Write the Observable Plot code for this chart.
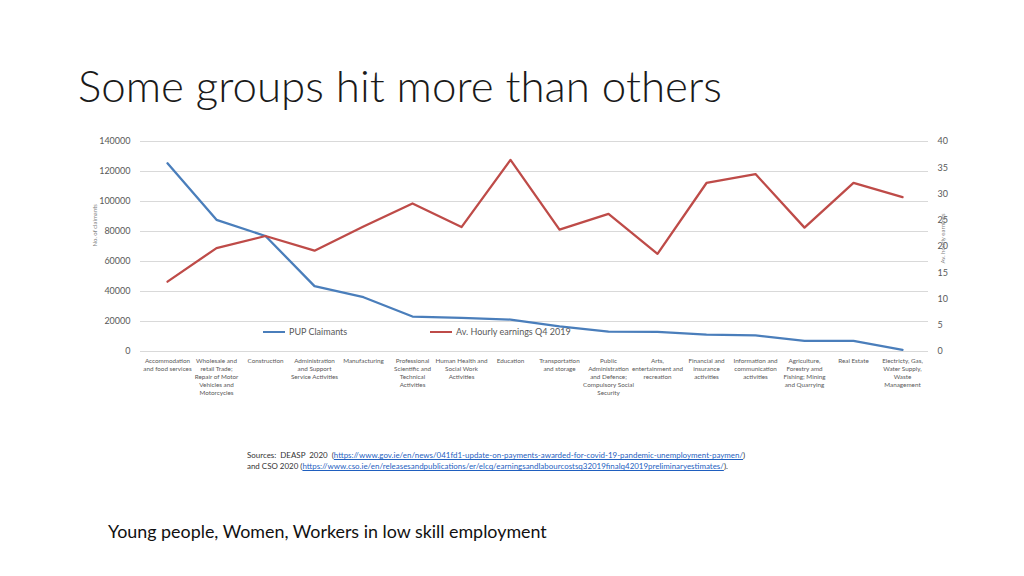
<!DOCTYPE html>
<html><head><meta charset="utf-8">
<script src="https://cdn.jsdelivr.net/npm/d3@7"></script>
<script src="https://cdn.jsdelivr.net/npm/@observablehq/plot@0.6"></script>
<style>
body{margin:0;background:#fff;font-family:Lato,"Open Sans",sans-serif;}
#page{position:relative;width:1024px;height:576px;overflow:hidden;background:#fff;}
#chart{position:absolute;left:0;top:0;}
.title{position:absolute;left:78px;top:61px;font-size:42px;line-height:48px;font-weight:300;color:#1a1a1a;white-space:nowrap;}
.sub{position:absolute;left:108px;top:520px;font-size:17px;line-height:22px;color:#111;white-space:nowrap;}
.src{position:absolute;left:247px;top:450px;font-size:7.4px;line-height:11px;color:#333;white-space:nowrap;}
.src span{display:inline-block;}
.src a{color:#1f5fbf;text-decoration:underline;}
.leg{position:absolute;top:326px;font-size:9px;line-height:12px;color:#595959;white-space:nowrap;display:flex;align-items:center;}
.leg i{display:inline-block;width:22px;height:2.5px;margin-right:4px;}
</style></head>
<body><div id="page">
<div class="title" id="title">Some groups hit more than others</div>
<div class="leg" style="left:263px"><i style="background:#4a7ebb"></i>PUP Claimants</div>
<div class="leg" style="left:430px"><i style="background:#be4b48"></i>Av. Hourly earnings Q4 2019</div>
<div class="src" id="src"><span id="src1">Sources:&nbsp; DEASP&nbsp; 2020&nbsp; (<a>https://www.gov.ie/en/news/041fd1-update-on-payments-awarded-for-covid-19-pandemic-unemployment-paymen/</a>)</span><br><span>and CSO 2020 (<a>https://www.cso.ie/en/releasesandpublications/er/elcq/earningsandlabourcostsq32019finalq42019preliminaryestimates/</a>).</span></div>
<div class="sub" id="sub">Young people, Women, Workers in low skill employment</div>
</div>
<script>
const categories = ["Accommodation and food services","Wholesale and retail Trade; Repair of Motor Vehicles and Motorcycles","Construction","Administration and Support Service Activities","Manufacturing","Professional Scientific and Technical Activities","Human Health and Social Work Activities","Education","Transportation and storage","Public Administration and Defence; Compulsory Social Security","Arts, entertainment and recreation","Financial and insurance activities","Information and communication activities","Agriculture, Forestry amd Fishing; Mining and Quarrying","Real Estate","Electricty, Gas, Water Supply, Waste Management"];
const tickLabels = ["Accommodation\nand food services","Wholesale and\nretail Trade;\nRepair of Motor\nVehicles and\nMotorcycles","Construction","Administration\nand Support\nService Activities","Manufacturing","Professional\nScientific and\nTechnical\nActivities","Human Health and\nSocial Work\nActivities","Education","Transportation\nand storage","Public\nAdministration\nand Defence;\nCompulsory Social\nSecurity","Arts,\nentertainment and\nrecreation","Financial and\ninsurance\nactivities","Information and\ncommunication\nactivities","Agriculture,\nForestry amd\nFishing; Mining\nand Quarrying","Real Estate","Electricty, Gas,\nWater Supply,\nWaste\nManagement"];
const pupClaimants = [125500, 87800, 77000, 43600, 36200, 23300, 22400, 21300, 16700, 13300, 13100, 11300, 10700, 7100, 7100, 1100];
const hourlyEarnings = [13.3, 19.7, 22.0, 19.2, 23.8, 28.2, 23.7, 36.5, 23.2, 26.2, 18.6, 32.1, 33.8, 23.6, 32.1, 29.4];
const leftTicks = [0, 20000, 40000, 60000, 80000, 100000, 120000, 140000];
const rightTicks = [0, 5, 10, 15, 20, 25, 30, 35, 40];
const rightMax = 40, leftMax = 140000;
const k = leftMax / rightMax;

const rows = categories.map((c, i) => ({cat: c, pup: pupClaimants[i], earn: hourlyEarnings[i] * k}));
const labelOf = new Map(categories.map((c, i) => [c, tickLabels[i]]));

const chart = Plot.plot({
  width: 1024, height: 576,
  marginLeft: 140, marginRight: 96, marginTop: 141, marginBottom: 225,
  style: {fontFamily: "Lato, 'Open Sans', sans-serif", background: "transparent"},
  x: {type: "point", domain: categories, padding: 0.5},
  y: {domain: [0, leftMax]},
  marks: [
    Plot.gridY(leftTicks, {stroke: "#d9d9d9", strokeOpacity: 1, strokeWidth: 1}),
    Plot.axisY({ticks: leftTicks, tickSize: 0, tickPadding: 10, fontSize: 9, color: "#595959", label: null, tickFormat: d => String(d)}),
    Plot.axisY({anchor: "right", ticks: rightTicks.map(v => v * k), tickSize: 0, tickPadding: 9, fontSize: 9, color: "#595959", label: null, tickFormat: d => String(Math.round(d / k))}),
    Plot.axisX({tickSize: 0, tickPadding: 6, fontSize: 6.3, color: "#595959", label: null, lineHeight: 1.25, tickFormat: d => labelOf.get(d)}),
    Plot.line(rows, {x: "cat", y: "pup", stroke: "#4a7ebb", strokeWidth: 2.3}),
    Plot.line(rows, {x: "cat", y: "earn", stroke: "#be4b48", strokeWidth: 2.3}),
    Plot.text(["No. of claimants"], {frameAnchor: "left", dx: -45, rotate: -90, fontSize: 6, fill: "#7f7f7f"}),
    Plot.text(["Av. hourly earnings"], {frameAnchor: "right", dx: 15, dy: -33, rotate: -90, fontSize: 6, fill: "#7f7f7f"})
  ]
});
chart.id = "chart";
document.getElementById("page").prepend(chart);

// fit text widths to the reference's spans
function fit(el, measureEl, base, target) {
  const w = measureEl.getBoundingClientRect().width;
  el.style.fontSize = (base * target / w) + "px";
}
fit(document.getElementById("title"), document.getElementById("title"), 42, 644);
fit(document.getElementById("sub"), document.getElementById("sub"), 17, 439);
fit(document.getElementById("src"), document.getElementById("src1"), 7.4, 498);
</script>
</body></html>
